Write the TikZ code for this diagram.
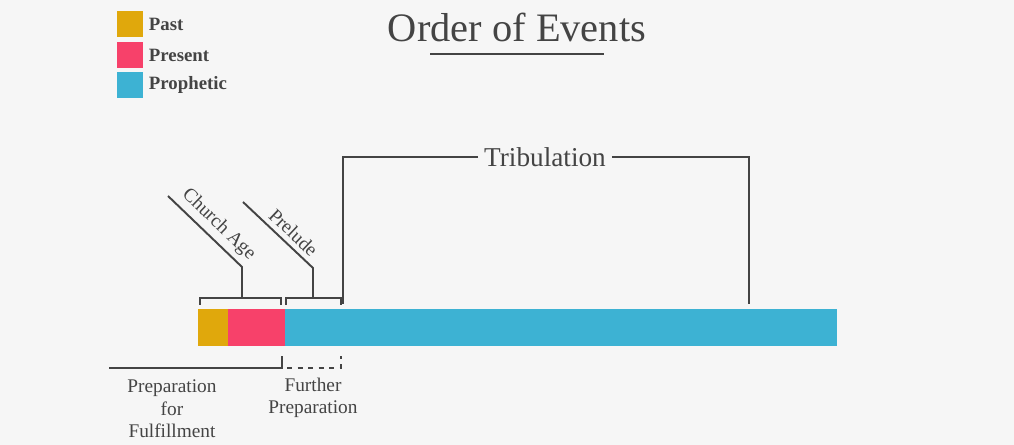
\documentclass[tikz,border=0pt]{standalone}
\usepackage{fontspec}
\setmainfont{Liberation Serif}
\usepackage{xcolor}
\usetikzlibrary{positioning}
\definecolor{pastc}{HTML}{E0A80C}
\definecolor{presc}{HTML}{F7416A}
\definecolor{prophc}{HTML}{3DB2D3}
\definecolor{bgc}{HTML}{F6F6F6}
\definecolor{ink}{HTML}{444444}
\tikzstyle{seg} = [rectangle, inner sep=0pt, outer sep=0pt, minimum height=0.72cm, line width=0.5pt]
\tikzstyle{key} = [rectangle, inner sep=0pt, minimum size=0.52cm, draw=none]
\tikzstyle{keytext} = [font=\fontsize{10.7}{12}\selectfont\bfseries, text=ink, inner sep=1pt]
\tikzstyle{lab} = [font=\fontsize{11}{12.8}\selectfont, text=ink, align=center]
\tikzstyle{line} = [draw=ink, line width=1.1pt]

\begin{document}
\begin{tikzpicture}[x=0.02cm, y=-0.02cm]
    \fill[bgc] (0,0) rectangle (1014,445);

    % legend
    \node (k1) [key, fill=pastc] at (130,24) {};
    \node (k2) [key, fill=presc] at (130,55) {};
    \node (k3) [key, fill=prophc] at (130,85) {};
    \node (t1) [keytext, right=2pt of k1] {Past};
    \node (t2) [keytext, right=2pt of k2] {Present};
    \node (t3) [keytext, right=2pt of k3] {Prophetic};

    % title
    \node (title) [font=\fontsize{23}{26}\selectfont, text=ink] at (517,27) {Order of Events};
    \draw [draw=ink, line width=0.8pt] (430,54) -- (604,54);

    % the bar
    \node (past) [seg, fill=pastc, draw=pastc, minimum width=0.6cm, anchor=north west] at (198,309) {};
    \node (pres) [seg, fill=presc, draw=presc, minimum width=1.14cm, right=0pt of past] {};
    \node (proph) [seg, fill=prophc, draw=prophc, minimum width=11.04cm, right=0pt of pres] {};

    % church age
    \coordinate (ca0) at (242,298);
    \coordinate (ca1) at (242,267);
    \coordinate (ca2) at (168,196);
    \draw [line] (200,305) |- (281,298) -- (281,305);
    \draw [line] (ca0) -- (ca1) -- (ca2);
    \path (ca2) -- (ca1) node [lab, pos=0.55, sloped, above, inner sep=3pt] (cage) {Church Age};

    % prelude
    \coordinate (pr0) at (313,298);
    \coordinate (pr1) at (313,268);
    \coordinate (pr2) at (243,202);
    \draw [line] (286,305) |- (341,298) -- (341,305);
    \draw [line] (pr0) -- (pr1) -- (pr2);
    \path (pr2) -- (pr1) node [lab, pos=0.6, sloped, above, inner sep=3pt] (prel) {Prelude};

    % tribulation
    \node (trib) [font=\fontsize{15.5}{18}\selectfont, text=ink] at (545,157) {Tribulation};
    \coordinate (tl) at (343,304);
    \coordinate (tr) at (749,304);
    \draw [line] (trib.west) -| (tl);
    \draw [line] (trib.east) -| (tr);

    % below the bar
    \coordinate (b0) at (109,368);
    \coordinate (b1) at (282,356);
    \coordinate (d0) at (287,368);
    \coordinate (d1) at (341,356);
    \draw [line] (b0) -| (b1);
    \draw [line, dashed] (d0) -| (d1);
    \node (prep) [lab] at (172,409) {Preparation\\for\\Fulfillment};
    \node (fprep) [lab] at (313,398) {Further\\Preparation};

\end{tikzpicture}
\end{document}
